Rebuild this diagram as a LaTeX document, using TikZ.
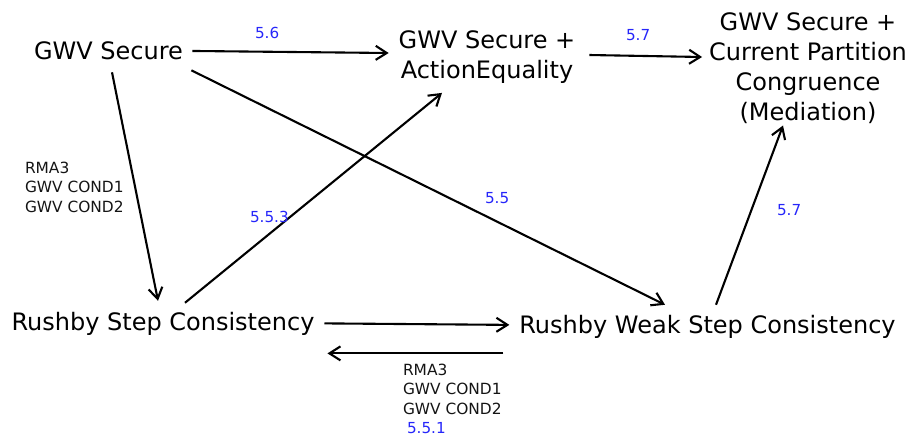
\documentclass[tikz,border=0pt]{standalone}
\usepackage{fontspec}
\setmainfont{DejaVu Sans}
\usetikzlibrary{arrows.meta,calc}
\definecolor{refblue}{RGB}{38,38,250}
\definecolor{inkgray}{RGB}{20,20,20}
\tikzset{
  big/.style={inner sep=0pt, outer sep=0pt, text=black,
    font=\fontsize{24}{30}\selectfont, align=center},
  note/.style={inner sep=0pt, outer sep=0pt, text=inkgray,
    font=\fontsize{15.4}{19.5}\selectfont, align=left},
  ref/.style={inner sep=0pt, outer sep=0pt, text=refblue,
    font=\fontsize{15.2}{19.5}\selectfont},
  link/.style={line width=2.1pt, draw=black,
    -{Straight Barb[length=11pt,width=14pt,line width=2.1pt]}}
}
\begin{document}
\begin{tikzpicture}[x=1pt,y=-1pt]
\useasboundingbox (0,0) rectangle (912,440);

% statements
\node[big, anchor=base] (gs) at (108.5,59) {GWV Secure};
\node[big] (ae) at (487,57) {GWV Secure +\\ActionEquality};
\node[big] (tr) at (808,68) {GWV Secure +\\Current Partition\\Congruence\\(Mediation)};
\node[big, anchor=base] (rs) at (163,330) {Rushby Step Consistency};
\node[big, anchor=base] (rw) at (707.5,333) {Rushby Weak Step Consistency};

% implications
\draw[link] ($(gs.east)+(9.5,0.7)$) -- ($(ae.west)+(-10,-4)$);
\draw[link] ($(ae.east)+(14,-2)$) -- ($(tr.west)+(-7,-11)$);
\draw[link] ($(gs.south east)+(8.5,11)$) -- ($(rw.north)+(-42.5,-10)$);
\draw[link] ($(gs.south)+(3.5,13)$) -- ($(rs.north)+(-5,-11)$);
\draw[link] ($(rs.north)+(22,-9)$) -- ($(ae.south)+(-45,9.5)$);
\draw[link] ($(rw.north)+(8.5,-10)$) -- ($(tr.south)+(-25,2)$);
\draw[link] ($(rs.east)+(10,0)$) -- ($(rw.west)+(-10,-1.5)$);
\draw[link] ($(rw.west)+(-16,27)$) -- ($(rs.east)+(13,30)$);

% edge labels
\node[ref, anchor=base west] (l56) at (255,38) {5.6};
\node[ref, anchor=base west] (l57a) at (626,40) {5.7};
\node[ref, anchor=base west] (l55) at (485,203) {5.5};
\node[ref, anchor=base west] (l553) at (250,222) {5.5.3};
\node[ref, anchor=base west] (l57b) at (777,215) {5.7};
\node[note, anchor=north west] (condl) at (25,162) {RMA3\\GWV COND1\\GWV COND2};
\node[note, anchor=north west] (condb) at (403,364) {RMA3\\GWV COND1\\GWV COND2};
\node[ref, anchor=base west] (l551) at (407,433) {5.5.1};
\end{tikzpicture}
\end{document}
